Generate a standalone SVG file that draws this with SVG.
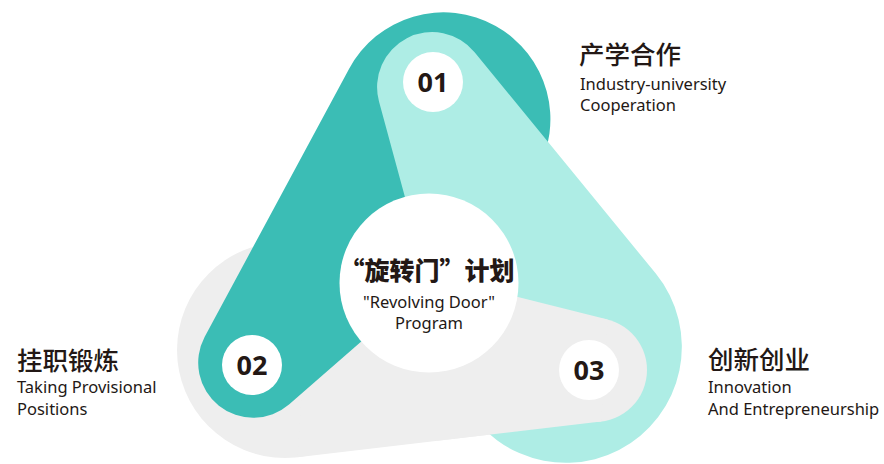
<svg xmlns="http://www.w3.org/2000/svg" width="884" height="464" viewBox="0 0 884 464">
  <style>
    .num { font-family: "Open Sans", "Noto Sans", sans-serif; font-weight: 700; font-size: 27px; fill: #231815; text-anchor: middle; }
    .cn { font-family: "Noto Sans CJK SC", sans-serif; font-size: 25.5px; font-weight: 500; fill: #231815; }
    .cnb { font-family: "Noto Sans CJK SC", sans-serif; font-size: 25px; font-weight: 900; fill: #231815; text-anchor: middle; }
    .en { font-family: "Noto Sans", "Liberation Sans", sans-serif; font-size: 16.5px; fill: #231815; }
    .enc { font-family: "Noto Sans", "Liberation Sans", sans-serif; font-size: 16.5px; fill: #231815; text-anchor: middle; }
    .dot { fill: #ffffff; }
    .gray { fill: #eeeeee; }
  </style>
  <defs>
    <g id="grayshape">
      <circle cx="285" cy="350" r="108"/>
      <circle cx="595" cy="370" r="52"/>
      <polygon points="311.3,245.2 607.7,319.6 601.1,421.6 297.6,457.2"/>
    </g>
    <clipPath id="rightclip"><rect x="435" y="280" width="449" height="184"/></clipPath>
  </defs>
  <g id="bands">
    <use id="band-gray" href="#grayshape" class="gray"/>
    <path id="band-dark" fill="#3bbdb5" d="M349,69 A107 107 0 1 1 535.7,173.5 L402,306 L289,404.5 A55 55 0 0 1 204.6,337 Z"/>
    <path id="band-light" fill="#aeede5" d="M379,101.5 A55 55 0 0 1 474.6,52.2 L655.8,273.6 A116 116 0 1 1 454,377.6 Z"/>
    <use id="band-gray-top" href="#grayshape" class="gray" clip-path="url(#rightclip)"/>
  </g>
  <g id="center">
    <circle class="dot" cx="429" cy="283" r="89.5"/>
    <text class="cnb" x="427" y="280">“旋转门”计划</text>
    <text class="enc" x="429" y="308">"Revolving Door"</text>
    <text class="enc" x="429" y="329">Program</text>
  </g>
  <g id="node-01">
    <circle class="dot" cx="433" cy="82" r="30"/>
    <text class="num" x="433" y="92">01</text>
    <text class="cn" x="579" y="64">产学合作</text>
    <text class="en" x="580" y="90">Industry-university</text>
    <text class="en" x="580" y="111">Cooperation</text>
  </g>
  <g id="node-02">
    <circle class="dot" cx="252" cy="365" r="30"/>
    <text class="num" x="252" y="375">02</text>
    <text class="cn" x="17" y="370">挂职锻炼</text>
    <text class="en" x="17" y="393">Taking Provisional</text>
    <text class="en" x="17" y="415">Positions</text>
  </g>
  <g id="node-03">
    <circle class="dot" cx="589" cy="370" r="30"/>
    <text class="num" x="589" y="380">03</text>
    <text class="cn" x="708" y="369">创新创业</text>
    <text class="en" x="708" y="393">Innovation</text>
    <text class="en" x="708" y="415">And Entrepreneurship</text>
  </g>
</svg>
